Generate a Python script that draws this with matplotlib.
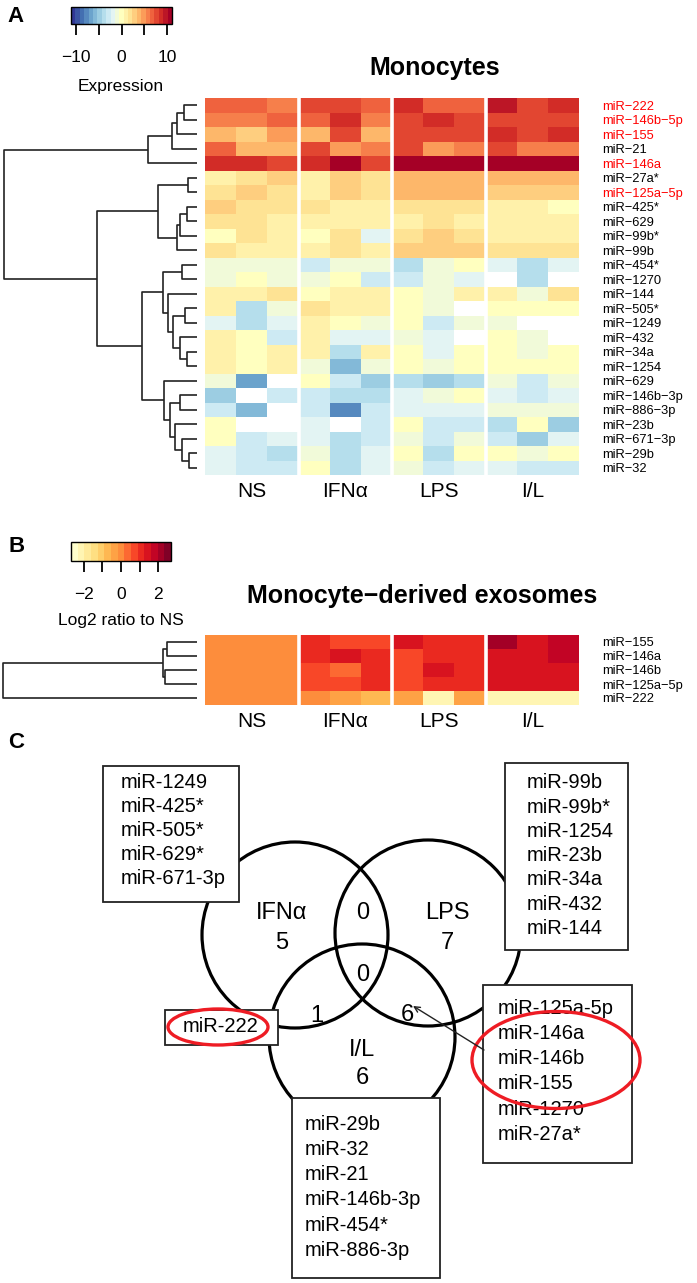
import numpy as np
import matplotlib as mpl
import matplotlib.pyplot as plt
from matplotlib.patches import Circle, Rectangle, Ellipse

plt.rcParams['font.family'] = ['Liberation Sans', 'DejaVu Sans']

M = '\u2212'
nan = np.nan
W, H = 697, 1283

# ---- A: monocytes heatmap data (rows top to bottom, 3 replicates per group)
rows_a = ['miR-222', 'miR-146b-5p', 'miR-155', 'miR-21', 'miR-146a', 'miR-27a*',
          'miR-125a-5p', 'miR-425*', 'miR-629', 'miR-99b*', 'miR-99b', 'miR-454*',
          'miR-1270', 'miR-144', 'miR-505*', 'miR-1249', 'miR-432', 'miR-34a',
          'miR-1254', 'miR-629', 'miR-146b-3p', 'miR-886-3p', 'miR-23b',
          'miR-671-3p', 'miR-29b', 'miR-32']
red_a = ['miR-222', 'miR-146b-5p', 'miR-155', 'miR-146a', 'miR-125a-5p']
groups = ['NS', 'IFN\u03b1', 'LPS', 'I/L']

ns_a = [[7.0, 6.5, 5.5], [5.5, 5.5, 6.5], [4.0, 3.2, 4.5], [6.5, 4.2, 4.2],
        [9.0, 9.0, 8.0], [1.2, 2.0, 2.5], [2.0, 2.6, 2.0], [2.6, 1.5, 2.0],
        [1.5, 1.5, 1.0], [0.4, 1.5, 1.0], [2.0, 1.0, 1.0], [-0.6, -0.6, -0.6],
        [-1.0, 0.2, -0.5], [0.5, 0.5, 1.8], [0.5, -3.5, -0.5], [-1.8, -3.5, -1.8],
        [0.5, -0.4, -2.5], [0.5, -0.4, 0.5], [0.5, -0.4, 0.5], [-1.0, -6.5, nan],
        [-4.5, nan, -3.2], [-2.8, -5.8, nan], [-0.4, nan, nan], [-0.4, -2.8, -1.8],
        [-1.8, -3.0, -3.8], [-1.8, -3.0, -3.0]]
ifn_a = [[8.0, 8.0, 7.0], [6.3, 8.3, 5.5], [4.3, 7.5, 4.3], [7.5, 5.0, 5.5],
         [9.0, 10.8, 8.0], [1.2, 3.3, 1.8], [0.7, 3.3, 1.6], [2.2, 0.5, 1.2],
         [1.2, 0.5, 0.5], [-0.2, 1.8, -1.8], [1.3, 1.8, 0.6], [-2.5, -1.2, -0.6],
         [-0.5, -0.1, -3.3], [0.2, 0.6, 1.2], [1.8, 0.5, 1.0], [0.5, 0.3, -0.5],
         [0.6, -1.8, -1.8], [0.6, -3.8, 0.8], [-1.0, -5.8, -0.5], [0.3, -2.5, -5.2],
         [-3.0, -3.5, -3.5], [-2.8, -7.5, -3.3], [-1.8, nan, -3.3], [-1.8, -3.8, -2.5],
         [-0.8, -3.8, -1.8], [-0.4, -3.8, -1.8]]
lps_a = [[9.0, 6.3, 7.0], [8.0, 9.0, 8.0], [8.0, 7.2, 7.2], [7.5, 5.0, 5.5],
         [10.8, 10.8, 10.8], [3.5, 3.5, 4.2], [3.8, 3.8, 3.8], [1.5, 2.0, 1.5],
         [1.2, 1.7, 1.0], [1.7, 2.6, 2.0], [3.3, 3.3, 3.3], [-3.5, -0.6, -0.1],
         [-3.3, -1.0, -2.3], [0.1, -0.6, 1.2], [0.4, -0.5, nan], [0.4, -2.8, -0.5],
         [-1.0, -1.8, nan], [-0.4, -1.8, -0.4], [-0.4, -1.0, -0.4], [-3.8, -5.2, -3.8],
         [-2.0, -0.8, 0.4], [-1.8, -1.8, -1.8], [-0.2, -2.5, -2.5], [-1.0, -3.0, -0.8],
         [0.3, -3.8, 0.4], [-1.0, -3.3, -1.8]]
il_a = [[9.8, 8.0, 9.0], [7.2, 8.0, 8.0], [9.0, 8.0, 9.0], [7.2, 5.5, 5.5],
        [10.8, 10.8, 10.8], [4.3, 3.5, 4.2], [3.2, 3.2, 2.5], [1.2, 1.2, -0.3],
        [0.6, 0.6, 0.6], [0.6, 1.0, 1.2], [2.3, 2.3, 1.6], [-2.3, -3.5, -1.8],
        [nan, -3.5, nan], [1.3, -1.0, 2.2], [0.4, 0.4, 0.4], [-1.0, nan, nan],
        [0.3, -1.0, nan], [-0.4, -1.0, -0.4], [-0.4, -0.4, 0.2], [-1.0, -3.3, -1.0],
        [-1.8, -3.3, -1.8], [-1.0, -1.0, -1.0], [-3.5, -0.2, -5.2], [-3.3, -4.5, -1.8],
        [-0.2, -0.8, -0.3], [-1.8, -2.5, -2.5]]

# dendrogram: (height, left, right), leaves are row indices
tree_a = (193,
          (49, (25, (20, (13, 0, 1), 2), 3), 4),
          (100,
           (39, (9, 5, 6), (20, (17, (10, 7, 8), 9), 10)),
           (55,
            (34, (15, 11, 12), (29, 13, (24, (12, 14, 15), (17, 16, (10, 17, 18))))),
            (33, 19, (27, (17, 20, 21), (22, 22, (15, 23, (8, 24, 25))))))))

# ---- B: exosomes
rows_b = ['miR-155', 'miR-146a', 'miR-146b', 'miR-125a-5p', 'miR-222']
ns_b = [[0, 0, 0]] * 5
ifn_b = [[1.0, 0.6, 0.6], [1.0, 1.4, 1.1], [0.8, 0.25, 1.1], [0.85, 0.6, 1.0], [-0.15, -0.4, -0.7]]
lps_b = [[1.3, 1.2, 1.2], [0.85, 1.0, 1.2], [0.8, 1.6, 1.2], [0.8, 1.0, 0.9], [-0.5, -2.1, -0.2]]
il_b = [[2.1, 1.5, 1.7], [1.5, 1.5, 1.8], [1.6, 1.6, 1.6], [1.6, 1.6, 1.3], [-2.3, -2.3, -2.3]]
tree_b = (194, (34, (30, 0, 1), (32, 2, 3)), 4)

# ---- C: venn
venn_counts = {'ifn': 5, 'lps': 7, 'il': 6, 'ifn_lps': 0, 'all': 0, 'ifn_il': 1, 'lps_il': 6}
ifn_only = ['miR-1249', 'miR-425*', 'miR-505*', 'miR-629*', 'miR-671-3p']
lps_only = ['miR-99b', 'miR-99b*', 'miR-1254', 'miR-23b', 'miR-34a', 'miR-432', 'miR-144']
il_only = ['miR-29b', 'miR-32', 'miR-21', 'miR-146b-3p', 'miR-454*', 'miR-886-3p']
lps_il = ['miR-125a-5p', 'miR-146a', 'miR-146b', 'miR-155', 'miR-1270', 'miR-27a*']
ifn_il = ['miR-222']

fig = plt.figure(figsize=(W / 100, H / 100), dpi=100)


def px_axes(x0, y0, x1, y1):
    return fig.add_axes([x0 / W, 1 - y1 / H, (x1 - x0) / W, (y1 - y0) / H])


def draw_tree(ax, node):
    if isinstance(node, int):
        return node + 0.5, 0
    h, left, right = node
    yl, hl = draw_tree(ax, left)
    yr, hr = draw_tree(ax, right)
    ax.plot([hl, h, h, hr], [yl, yl, yr, yr], color='#222222', lw=1.2,
            solid_capstyle='butt', clip_on=False)
    return (yl + yr) / 2, h


def heat(ax, blocks, cmap, vmin, vmax, rows, red):
    data = np.hstack([np.array(b, dtype=float) for b in blocks])
    ax.pcolormesh(np.ma.masked_invalid(data), cmap=cmap, vmin=vmin, vmax=vmax)
    ax.set_xlim(0, 12)
    ax.set_ylim(len(rows), 0)
    for x in (3, 6, 9):
        ax.axvline(x, color='white', lw=2.6)
    for s in ax.spines.values():
        s.set_visible(False)
    ax.set_xticks([1.5, 4.5, 7.5, 10.5])
    ax.set_xticklabels(groups, fontsize=15)
    ax.tick_params(axis='x', length=0, pad=5)
    ax.yaxis.tick_right()
    ax.set_yticks(np.arange(len(rows)) + 0.5)
    ax.set_yticklabels([r.replace('-', M) for r in rows], fontsize=9.3)
    ax.tick_params(axis='y', length=0, pad=17)
    for lab, r in zip(ax.get_yticklabels(), rows):
        if r in red:
            lab.set_color('red')


def key(x0, y0, x1, y1, cmap, vmin, vmax, ticks, labels):
    cax = px_axes(x0, y0, x1, y1)
    sm = mpl.cm.ScalarMappable(norm=mpl.colors.Normalize(vmin, vmax), cmap=cmap)
    cb = fig.colorbar(sm, cax=cax, orientation='horizontal')
    cb.set_ticks(ticks)
    cb.set_ticklabels(labels)
    cax.tick_params(length=8, width=1.3, pad=11, labelsize=12.5)
    cb.outline.set_linewidth(1)


cmap_a = plt.get_cmap('RdYlBu_r').resampled(23)
cmap_b = plt.get_cmap('YlOrRd').resampled(15)

# A
ax = px_axes(205, 98, 579, 475)
heat(ax, [ns_a, ifn_a, lps_a, il_a], cmap_a, -11, 11, rows_a, red_a)
dax = px_axes(0, 98, 197, 475)
dax.set_xlim(197, 0)
dax.set_ylim(len(rows_a), 0)
dax.axis('off')
draw_tree(dax, tree_a)
key(71, 7, 172, 24, cmap_a, -11, 11, [-10, -5, 0, 5, 10], [M + '10', '', '0', '', '10'])

# B
bx = px_axes(205, 635, 579, 705)
heat(bx, [ns_b, ifn_b, lps_b, il_b], cmap_b, -2.7, 2.7, rows_b, [])
dbx = px_axes(0, 635, 197, 705)
dbx.set_xlim(197, 0)
dbx.set_ylim(len(rows_b), 0)
dbx.axis('off')
draw_tree(dbx, tree_b)
key(71, 542, 171, 561, cmap_b, -2.7, 2.7, [-2, -1, 0, 1, 2], [M + '2', '', '0', '', '2'])

# overlay in pixel coordinates
ov = fig.add_axes([0, 0, 1, 1])
ov.set_xlim(0, W)
ov.set_ylim(H, 0)
ov.axis('off')

for x, y, s in [(16, 17, 'A'), (17, 547, 'B'), (16, 742, 'C')]:
    ov.text(x, y, s, fontsize=16, fontweight='bold', ha='center', va='center')
ov.text(121, 86, 'Expression', fontsize=12.5, ha='center', va='center')
ov.text(121, 620, 'Log2 ratio to NS', fontsize=12.5, ha='center', va='center')
ov.text(435, 68, 'Monocytes', fontsize=18, fontweight='bold', ha='center', va='center')
ov.text(422, 596, 'Monocyte' + M + 'derived exosomes', fontsize=18, fontweight='bold',
        ha='center', va='center')

# venn circles
for cx, cy in [(295, 935), (428, 933), (362, 1037)]:
    ov.add_patch(Circle((cx, cy), 93, fill=False, lw=2.3, color='black', zorder=2))

vt = dict(fontsize=17, ha='center', va='center', zorder=3)
ov.text(282, 913, 'IFN\u03b1', **vt)
ov.text(282, 943, str(venn_counts['ifn']), **vt)
ov.text(447, 913, 'LPS', **vt)
ov.text(447, 943, str(venn_counts['lps']), **vt)
ov.text(362, 1050, 'I/L', **vt)
ov.text(362, 1078, str(venn_counts['il']), **vt)
ov.text(363, 913, str(venn_counts['ifn_lps']), **vt)
ov.text(363, 975, str(venn_counts['all']), **vt)
ov.text(317, 1016, str(venn_counts['ifn_il']), **vt)
ov.text(407, 1015, str(venn_counts['lps_il']), **vt)


def box(x0, y0, x1, y1, names, tx, ty, step, ha='left'):
    ov.add_patch(Rectangle((x0, y0), x1 - x0, y1 - y0, facecolor='white',
                           edgecolor='#222222', lw=1.3, zorder=4))
    for i, n in enumerate(names):
        ov.text(tx, ty + i * step, n, fontsize=14.5, ha=ha, va='center', zorder=5)


box(103, 766, 239, 902, ifn_only, 121, 783, 24)
box(505, 763, 628, 950, lps_only, 527, 783, 24.2)
box(165, 1010, 278, 1045, ifn_il, 221, 1027, 0, ha='center')
box(483, 985, 632, 1163, lps_il, 498, 1008, 25.3)
box(292, 1098, 440, 1278, il_only, 305, 1124, 25.3)

ov.add_patch(Ellipse((218, 1027), 100, 36, fill=False, lw=2.4, color='#EE1C24', zorder=6))
ov.add_patch(Ellipse((556, 1060), 168, 97, fill=False, lw=2.4, color='#EE1C24', zorder=6))
ov.annotate('', xy=(413, 1006), xytext=(484, 1050),
            arrowprops=dict(arrowstyle='->', lw=1, color='#222222', shrinkA=0, shrinkB=0),
            zorder=6)

fig.savefig('out.png', dpi=100)
